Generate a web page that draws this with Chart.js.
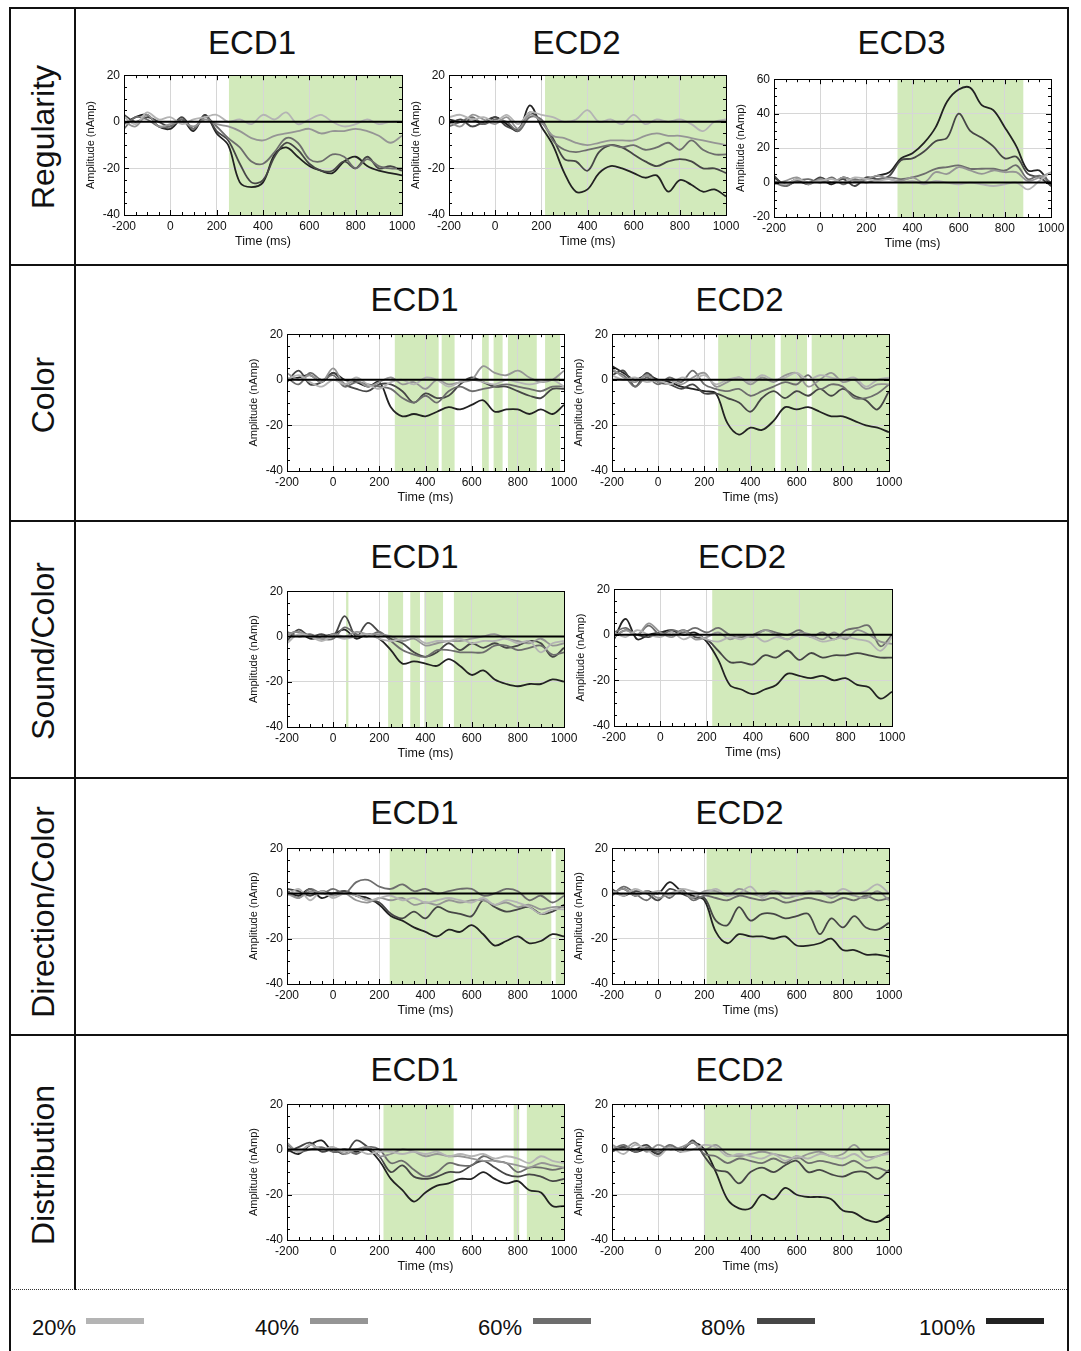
<!DOCTYPE html>
<html>
<head>
<meta charset="utf-8">
<script src="https://cdn.jsdelivr.net/npm/chart.js@4.4.0/dist/chart.umd.min.js"></script>
<style>
  body { margin: 0; background: #fff; width: 1081px; height: 1351px; position: relative; overflow: hidden;
         font-family: "Liberation Sans", Arial, sans-serif; color: #111; }
  .line { position: absolute; background: #111; }
  .rowlabel { position: absolute; font-size: 32px; white-space: nowrap; transform: translate(-50%, -50%) rotate(-90deg); }
  .title { position: absolute; font-size: 33px; transform: translate(-50%, -50%); white-space: nowrap; }
  .legtext { position: absolute; font-size: 22px; }
  .legswatch { position: absolute; height: 6px; width: 58px; }
  canvas { position: absolute; }
</style>
</head>
<body>
<script>
// time axis (ms) shared by every panel
const times = [-200, -150, -100, -50, 0, 50, 100, 150, 200, 250, 300, 350, 400, 450, 500, 550, 600, 650, 700, 750, 800, 850, 900, 950, 1000];
const levels = ['20%', '40%', '60%', '80%', '100%'];
const levelColors = ['#b4b4b4', '#959595', '#6d6d6d', '#464646', '#222222'];
const rowLabels = ['Regularity', 'Color', 'Sound/Color', 'Direction/Color', 'Distribution'];
const xTicks = [-200, 0, 200, 400, 600, 800, 1000];
const yTicks = [-40, -20, 0, 20];
const yTicksWide = [-20, 0, 20, 40, 60];

// amplitude (nAmp), one row per level 20%..100%
const regularityEcd1 = [
  [2, -1, 4, 1, 2, -1, 1, 2, 3, 0, 1, -1, 3, 1, 4, -1, 1, 3, 0, -2, -1, 1, -1, 0, 0],
  [0, -2, 3, -2, -1, 0, -2, 1, -1, -2, -4, -7, -8, -6, -5, -4, -3, -5, -4, -4, -3, -4, -6, -9, -6],
  [-3, 2, 1, -2, -2, 1, -3, 2, -2, -7, -11, -17, -18, -13, -7, -9, -16, -17, -14, -15, -20, -16, -19, -20, -20],
  [3, 0, 2, 0, -2, 2, -3, 3, -4, -8, -18, -26, -25, -15, -9, -12, -18, -21, -21, -17, -20, -15, -20, -19, -21],
  [-1, 2, 3, -2, -3, 1, -4, 3, -5, -10, -26, -28, -26, -14, -11, -15, -19, -21, -22, -17, -15, -19, -21, -22, -23]
];
const regularityEcd2 = [
  [2, 3, 1, 2, 0, 3, -1, 4, 3, 2, 0, 1, 5, 0, 1, -1, 3, -1, 1, 0, 1, -1, -4, 0, 1],
  [0, -2, 3, 1, -1, 2, -3, 3, 0, -6, -7, -9, -10, -9, -8, -8, -8, -6, -5, -6, -6, -7, -8, -9, -10],
  [-2, 0, 2, -1, 1, 0, -4, 2, 1, -8, -12, -13, -12, -11, -10, -11, -10, -12, -11, -9, -12, -8, -12, -14, -14],
  [-1, 1, -2, 0, 2, -2, -3, 4, 0, -7, -16, -17, -21, -13, -10, -11, -14, -17, -19, -17, -16, -17, -20, -20, -22],
  [1, 0, 1, -1, 2, -1, -4, 7, -2, -10, -22, -30, -29, -22, -19, -20, -22, -24, -23, -30, -25, -27, -30, -29, -32]
];
const regularityEcd3 = [
  [1, -1, 2, 0, 1, 2, 0, 3, 2, 1, 2, 0, 1, -1, 1, 0, -1, 0, -1, -2, -1, 0, -4, 1, 6],
  [-1, 1, 3, -1, 2, 0, 3, 1, 2, 4, 2, 1, 3, 0, 6, 5, 9, 7, 5, 7, 6, 6, 1, 3, 6],
  [0, -2, 1, 2, 0, 3, -1, 2, 0, 2, 3, 2, 3, 5, 8, 9, 10, 8, 8, 8, 7, 10, 2, 4, 0],
  [4, -2, 1, -1, 3, 0, 2, -2, 3, 2, 4, 13, 14, 18, 24, 26, 40, 30, 26, 21, 14, 15, 5, 3, -2],
  [3, -1, 2, 0, 2, -1, 3, 1, 2, 4, 6, 14, 17, 23, 32, 47, 54, 55, 45, 42, 32, 21, 7, 7, -2]
];
const colorEcd1 = [
  [0, 2, -1, -3, 0, -2, 1, -2, -4, -1, 0, -2, 1, 0, -3, -1, 0, -1, -2, 0, -1, -2, -1, 0, -3],
  [3, 0, 2, -1, 5, -2, 0, -3, -1, 1, -2, -1, -4, 0, -2, -1, 0, 6, 3, 2, 4, 1, -1, 0, 4],
  [1, -2, 3, 0, 2, -3, -1, -2, -3, -4, -8, -10, -7, -10, -5, -3, -5, -4, -3, -2, -3, -4, -5, -3, -3],
  [-1, 4, -2, -1, 3, -2, -4, -5, -2, -2, -5, -10, -6, -8, -7, -2, 1, -1, -3, -3, -5, -7, -8, -4, -4],
  [0, 1, 2, -1, 3, 0, -1, -3, -1, -12, -16, -15, -16, -14, -12, -13, -11, -9, -14, -13, -13, -15, -13, -15, -11]
];
const colorEcd2 = [
  [2, 0, 1, -1, 0, -2, 1, 0, 2, -2, 0, 1, -1, 2, 0, 1, 3, 0, 2, 1, 0, 1, -3, 0, 1],
  [5, 1, -1, 2, -1, 0, -2, 1, 3, -3, -1, 1, -2, 1, -1, 2, 3, -3, 0, 3, -1, 0, -4, -2, -2],
  [4, 2, -3, 1, -2, 1, -1, 4, -2, -4, -5, -4, -7, -5, -3, -1, -2, 2, -4, -2, -3, -8, -8, -6, -2],
  [2, 4, -3, 3, -1, -2, -4, -2, -6, -6, -8, -10, -14, -8, -5, -8, -5, -7, -4, -7, -4, -7, -9, -13, -5],
  [6, 3, 0, 2, 0, -1, -3, -4, -5, -6, -19, -24, -21, -22, -18, -12, -13, -12, -14, -16, -16, -18, -20, -21, -23]
];
const soundColorEcd1 = [
  [-3, 1, 0, -2, 0, -1, 0, 1, -1, -2, -1, 0, -3, -2, -2, -1, -3, -2, -2, -1, -3, -2, -7, -3, -2],
  [1, 2, 0, -1, 1, 0, 2, 1, 1, 0, -2, -1, -4, -3, -2, -2, -1, 0, 1, -1, -2, -3, -1, -4, -3],
  [2, 0, 1, -1, -1, 4, 1, 0, 2, -2, -6, -8, -9, -6, -6, -7, -7, -7, -4, -4, -6, -5, -4, -8, -7],
  [-2, 3, 0, 1, 0, 9, 0, 6, 2, -1, -3, -7, -9, -7, -3, -6, -3, -5, -3, -5, -4, -2, -3, -9, -5],
  [1, 2, -1, 0, 1, 3, -1, 1, -1, -6, -12, -11, -12, -13, -10, -13, -17, -15, -19, -21, -22, -21, -21, -19, -20]
];
const soundColorEcd2 = [
  [1, -1, 2, 0, -1, 1, -2, 0, -2, -3, -1, -2, 0, -3, -1, -2, 0, -1, -3, -2, -1, -2, -3, -7, -1],
  [-1, 2, 0, 5, 1, -1, 2, -2, -1, 1, -2, 0, -1, 2, 0, -2, 1, 0, -2, 1, -2, 2, 0, -3, -4],
  [1, 3, 0, 4, 0, 2, 1, 3, 1, 3, 0, -1, 0, 2, 1, 0, 2, -1, 1, -2, 2, 3, 4, -5, 0],
  [-1, 2, 0, -1, 1, 0, 2, -1, -2, -7, -12, -12, -13, -9, -10, -7, -11, -8, -10, -9, -9, -8, -9, -10, -10],
  [-2, 7, -2, 0, 1, 2, 0, 1, -3, -11, -22, -24, -26, -24, -22, -17, -18, -19, -18, -20, -19, -22, -23, -28, -25]
];
const directionColorEcd1 = [
  [-1, 2, -3, 1, -2, 0, -1, -3, -2, -1, -3, -2, -4, -3, -2, -3, -4, -2, -5, -3, -4, -6, -9, -7, -7],
  [0, -2, 1, 0, -1, 0, -3, -4, -2, -3, -2, -5, -4, -5, -3, -4, -3, -3, -5, -4, -6, -5, -7, -6, -6],
  [1, -2, 2, 0, 2, 0, 5, 6, 3, 2, 4, 1, 2, 0, 1, 2, 2, -1, 0, 2, 1, -3, -1, -4, -1],
  [2, 1, -1, 1, 0, 1, -1, -3, -4, -9, -11, -8, -11, -6, -8, -9, -10, -3, -6, -8, -7, -6, -9, -8, -5],
  [1, -1, 2, -2, 0, 1, -1, -2, -5, -10, -12, -15, -17, -19, -16, -17, -14, -18, -23, -21, -19, -22, -21, -18, -19]
];
const directionColorEcd2 = [
  [1, -1, 2, 0, 1, -1, 2, 1, 0, 2, -1, 0, 3, -2, 1, 0, -1, 1, 0, -1, 2, 0, 1, 4, 0],
  [0, 2, -1, 1, -2, 0, 1, -2, 1, 1, -1, 2, 0, -1, 1, -2, -1, 0, 1, -2, 0, -1, -2, 1, -3],
  [-1, 3, 0, -3, 1, -2, 2, -3, -1, -2, -3, -1, -2, -3, -2, -4, -3, -2, -3, -4, -2, -3, -1, -3, -2],
  [2, -1, 1, 0, -3, 2, 0, -2, -2, -12, -14, -6, -12, -9, -9, -11, -10, -9, -18, -11, -15, -10, -15, -16, -13],
  [0, 2, -1, 1, 0, 5, 1, -1, -3, -17, -22, -18, -19, -19, -20, -19, -23, -23, -22, -20, -25, -25, -27, -27, -28]
];
const distributionEcd1 = [
  [1, -1, 2, 0, 1, -1, 0, -2, -1, -1, -2, -1, -2, -1, -3, -2, -3, -2, -4, -3, -4, -6, -3, -5, -6],
  [3, -1, 2, 0, 1, -2, 0, 1, -3, -2, 0, -1, -3, -2, -3, -3, -4, -5, -5, -6, -7, -8, -6, -7, -8],
  [2, -1, 0, 1, -1, 0, -2, 1, 0, -6, -5, -9, -12, -10, -6, -7, -7, -3, -5, -6, -10, -8, -8, -9, -8],
  [-1, 1, 3, -1, 0, -2, 4, 1, -3, -10, -7, -12, -13, -12, -10, -10, -7, -5, -8, -11, -12, -11, -12, -14, -13],
  [0, -2, 2, 4, -1, 0, -1, 0, -5, -13, -18, -23, -19, -16, -15, -13, -13, -10, -13, -15, -14, -18, -19, -25, -25]
];
const distributionEcd2 = [
  [1, -2, 2, 0, -3, 1, -1, 0, 2, 1, -3, -2, -3, -4, -2, -5, -3, -4, -2, -3, -4, -2, -5, -3, -2],
  [2, 0, 3, -1, 2, 0, 1, 3, 0, 2, -2, -3, -2, -1, -2, -3, -4, -2, -1, -3, -2, 2, -3, -3, -1],
  [0, 2, -1, 1, -1, 2, 0, 3, -2, -3, -6, -4, -5, -6, -4, -6, -3, -6, -5, -6, -7, -5, -8, -8, -10],
  [-1, 1, 0, 2, -2, 1, -1, 4, -3, -9, -10, -15, -10, -8, -10, -7, -5, -10, -9, -11, -12, -10, -10, -13, -9],
  [0, 1, -1, 0, -2, 1, 0, 3, 0, -10, -22, -26, -26, -20, -22, -17, -20, -21, -21, -22, -27, -28, -31, -32, -29]
];

// significant time windows (ms), drawn as green bands
const regularityEcd1Sig = [[253, 1000]];
const regularityEcd2Sig = [[216, 1000]];
const regularityEcd3Sig = [[335, 880]];
const colorEcd1Sig = [[267, 457], [470, 526], [645, 674], [695, 734], [757, 882], [918, 983]];
const colorEcd2Sig = [[260, 507], [531, 645], [665, 1000]];
const soundColorEcd1Sig = [[56, 66], [238, 303], [334, 376], [395, 476], [523, 1000]];
const soundColorEcd2Sig = [[224, 1000]];
const directionColorEcd1Sig = [[245, 945], [964, 1000]];
const directionColorEcd2Sig = [[210, 1000]];
const distributionEcd1Sig = [[218, 522], [782, 806], [839, 1000]];
const distributionEcd2Sig = [[198, 1000]];

const panels = [
  { row: 0, title: 'ECD1', data: regularityEcd1, sig: regularityEcd1Sig, rect: [124, 74, 402, 215], y: yTicks },
  { row: 0, title: 'ECD2', data: regularityEcd2, sig: regularityEcd2Sig, rect: [449, 74, 726, 215], y: yTicks },
  { row: 0, title: 'ECD3', data: regularityEcd3, sig: regularityEcd3Sig, rect: [774, 78, 1051, 217], y: yTicksWide },
  { row: 1, title: 'ECD1', data: colorEcd1, sig: colorEcd1Sig, rect: [287, 333, 564, 471], y: yTicks },
  { row: 1, title: 'ECD2', data: colorEcd2, sig: colorEcd2Sig, rect: [612, 333, 889, 471], y: yTicks },
  { row: 2, title: 'ECD1', data: soundColorEcd1, sig: soundColorEcd1Sig, rect: [287, 590, 564, 727], y: yTicks, plain: true },
  { row: 2, title: 'ECD2', data: soundColorEcd2, sig: soundColorEcd2Sig, rect: [614, 588, 892, 726], y: yTicks, plain: true },
  { row: 3, title: 'ECD1', data: directionColorEcd1, sig: directionColorEcd1Sig, rect: [287, 847, 564, 984], y: yTicks },
  { row: 3, title: 'ECD2', data: directionColorEcd2, sig: directionColorEcd2Sig, rect: [612, 847, 889, 984], y: yTicks },
  { row: 4, title: 'ECD1', data: distributionEcd1, sig: distributionEcd1Sig, rect: [287, 1103, 564, 1240], y: yTicks },
  { row: 4, title: 'ECD2', data: distributionEcd2, sig: distributionEcd2Sig, rect: [612, 1103, 889, 1240], y: yTicks }
];
const titleY = [43, 300, 557, 813, 1070];
const rowMid = [137, 395, 651, 912, 1165];

function addDiv(cls, css, text) {
  const d = document.createElement('div');
  d.className = cls;
  d.style.cssText = css;
  if (text) d.textContent = text;
  document.body.appendChild(d);
  return d;
}

// frame lines
addDiv('line', 'left:9px;top:7px;width:1060px;height:1.5px');
addDiv('line', 'left:9px;top:7px;width:1.5px;height:1344px');
addDiv('line', 'left:1067px;top:7px;width:1.5px;height:1344px');
addDiv('line', 'left:74px;top:7px;width:1.5px;height:1283px');
[264, 520, 777, 1034].forEach(y => addDiv('line', `left:9px;top:${y}px;width:1060px;height:1.5px`));
addDiv('', 'position:absolute;left:10px;top:1289px;width:1057px;height:0;border-top:1.5px dotted #333');

rowLabels.forEach((txt, i) => addDiv('rowlabel', `left:43px;top:${rowMid[i]}px`, txt));

// legend
const legTextX = [32, 255, 478, 701, 919];
const legSwatchX = [86, 310, 533, 757, 986];
levels.forEach((lv, i) => {
  addDiv('legtext', `left:${legTextX[i]}px;top:1315px`, lv);
  addDiv('legswatch', `left:${legSwatchX[i]}px;top:1318px;background:${levelColors[i]}`);
});

function decoPlugin(p) {
  return {
    id: 'deco',
    beforeDraw(chart) {
      const { ctx, chartArea: a, scales: { x } } = chart;
      ctx.save();
      ctx.fillStyle = '#d2eabb';
      p.sig.forEach(([s, e]) => {
        const x0 = x.getPixelForValue(s), x1 = x.getPixelForValue(e);
        ctx.fillRect(x0, a.top, x1 - x0, a.bottom - a.top);
      });
      ctx.restore();
    },
    afterDatasetsDraw(chart) {
      const { ctx, chartArea: a, scales: { y } } = chart;
      const y0 = y.getPixelForValue(0);
      ctx.save();
      ctx.strokeStyle = '#000';
      ctx.lineWidth = 2;
      ctx.beginPath();
      ctx.moveTo(a.left, y0);
      ctx.lineTo(a.right, y0);
      ctx.stroke();
      ctx.restore();
    },
    afterDraw(chart) {
      const { ctx, chartArea: a, scales: { x, y } } = chart;
      ctx.save();
      ctx.strokeStyle = '#000';
      ctx.lineWidth = 1;
      ctx.strokeRect(Math.round(a.left) + 0.5, Math.round(a.top) + 0.5, Math.round(a.right - a.left), Math.round(a.bottom - a.top));
      ctx.beginPath();
      for (let t = x.min; t <= x.max; t += 50) {
        const px = Math.round(x.getPixelForValue(t)) + 0.5;
        const len = t % 200 === 0 ? 5 : 3;
        ctx.moveTo(px, a.bottom); ctx.lineTo(px, a.bottom - len);
        if (!p.plain) { ctx.moveTo(px, a.top); ctx.lineTo(px, a.top + len); }
      }
      for (let v = y.min; v <= y.max; v += 5) {
        const py = Math.round(y.getPixelForValue(v)) + 0.5;
        const len = v % 20 === 0 ? 5 : 3;
        ctx.moveTo(a.left, py); ctx.lineTo(a.left + len, py);
        if (!p.plain) { ctx.moveTo(a.right, py); ctx.lineTo(a.right - len, py); }
      }
      ctx.stroke();
      ctx.restore();
    }
  };
}

function makePanel(p) {
  const [l, t, r, b] = p.rect;
  const yW = 40, xH = 34, padT = 10, padR = 18;
  const cv = document.createElement('canvas');
  cv.width = (r - l) + yW + padR;
  cv.height = (b - t) + padT + xH;
  cv.style.cssText = `left:${l - yW}px;top:${t - padT}px;width:${cv.width}px;height:${cv.height}px`;
  document.body.appendChild(cv);

  addDiv('title', `left:${(l + r) / 2 - 11}px;top:${titleY[p.row]}px`, p.title);

  const tickFont = { family: '"Liberation Sans", Arial, sans-serif', size: 12 };
  new Chart(cv, {
    type: 'line',
    data: {
      datasets: p.data.map((vals, i) => ({
        label: levels[i],
        data: vals.map((v, k) => ({ x: times[k], y: v })),
        borderColor: levelColors[i],
        borderWidth: 1.8,
        pointRadius: 0,
        tension: 0.35,
        fill: false
      }))
    },
    options: {
      responsive: false,
      animation: false,
      devicePixelRatio: 1,
      layout: { padding: { left: 0, top: padT, right: padR, bottom: 0 } },
      plugins: { legend: { display: false }, tooltip: { enabled: false } },
      scales: {
        x: {
          type: 'linear', min: xTicks[0], max: xTicks[xTicks.length - 1],
          afterBuildTicks: s => { s.ticks = xTicks.map(v => ({ value: v })); },
          afterFit: s => { s.height = xH; },
          ticks: { padding: 4, font: tickFont, color: '#111', maxRotation: 0, autoSkip: false,
                   callback: v => String(v) },
          grid: { color: '#d6d6d6', drawTicks: false },
          border: { display: false },
          title: { display: true, text: 'Time (ms)', color: '#111', padding: 0,
                   font: { family: tickFont.family, size: 12.5 } }
        },
        y: {
          type: 'linear', min: p.y[0], max: p.y[p.y.length - 1],
          afterBuildTicks: s => { s.ticks = p.y.map(v => ({ value: v })); },
          afterFit: s => { s.width = yW; },
          ticks: { padding: 4, font: tickFont, color: '#111', autoSkip: false,
                   callback: v => String(v) },
          grid: { color: '#d6d6d6', drawTicks: false },
          border: { display: false },
          title: { display: true, text: 'Amplitude (nAmp)', color: '#111', padding: 0,
                   font: { family: tickFont.family, size: 11 } }
        }
      }
    },
    plugins: [decoPlugin(p)]
  });
}

panels.forEach(makePanel);
</script>
</body>
</html>
